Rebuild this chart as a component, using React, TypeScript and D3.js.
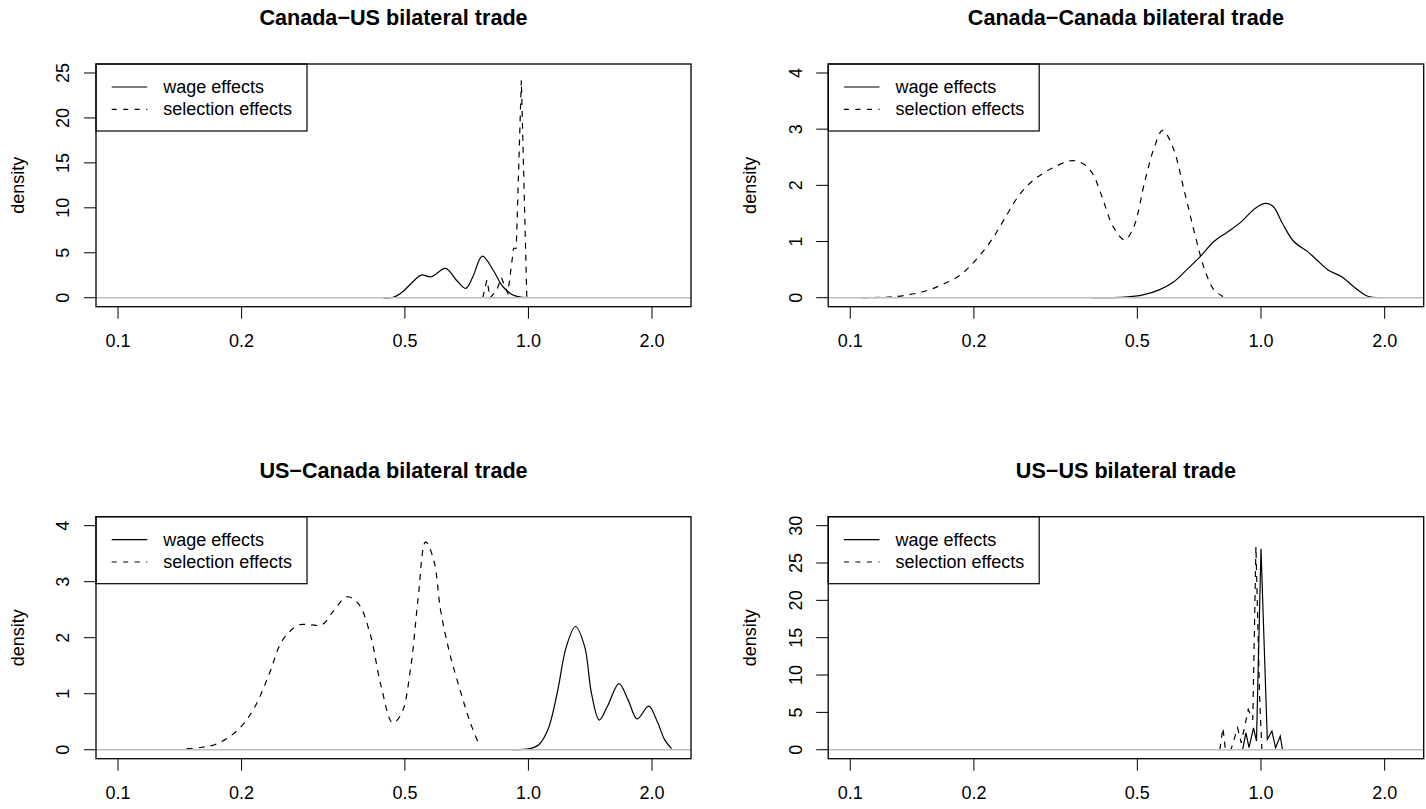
import React from 'react';
import * as d3 from 'd3';

// x ticks shared by all four panels (log scale)
const xTicks = [0.1, 0.2, 0.5, 1.0, 2.0];
const xTickLabels = ['0.1', '0.2', '0.5', '1.0', '2.0'];
const xLim = [0.1, 2.2];

const titles = [
  'Canada\u2212US bilateral trade',
  'Canada\u2212Canada bilateral trade',
  'US\u2212Canada bilateral trade',
  'US\u2212US bilateral trade',
];
const legendLabels = ['wage effects', 'selection effects'];

// Canada-US
const cuWageX = [0.442, 0.468, 0.494, 0.523, 0.548, 0.58, 0.628, 0.667, 0.703, 0.732, 0.772, 0.82, 0.867, 0.917, 0.988];
const cuWageY = [0, 0.05, 0.67, 1.78, 2.52, 2.33, 3.26, 1.97, 1.04, 2.33, 4.63, 3.08, 1.22, 0.3, 0];
const cuSelX = [0.774, 0.792, 0.807, 0.838, 0.859, 0.891, 0.92, 0.934, 0.961, 0.991];
const cuSelY = [0, 1.97, 0, 0.86, 2.26, 0.48, 5.49, 5.5, 24.2, 0];
const cuYTicks = [0, 5, 10, 15, 20, 25];
const cuYLim = [0, 25];

// Canada-Canada
const ccWageX = [0.389, 0.466, 0.516, 0.565, 0.61, 0.658, 0.711, 0.768, 0.829, 0.895, 0.967, 1.026, 1.072, 1.128, 1.202, 1.299, 1.368, 1.459, 1.575, 1.679, 1.813, 1.958];
const ccWageY = [0, 0.01, 0.05, 0.14, 0.27, 0.49, 0.73, 1.0, 1.17, 1.35, 1.59, 1.68, 1.62, 1.32, 1.0, 0.82, 0.67, 0.49, 0.37, 0.2, 0.03, 0];
const ccSelX = [0.1066, 0.129, 0.151, 0.167, 0.185, 0.202, 0.221, 0.239, 0.258, 0.279, 0.309, 0.347, 0.37, 0.389, 0.41, 0.437, 0.466, 0.49, 0.522, 0.55, 0.576, 0.61, 0.65, 0.693, 0.73, 0.768, 0.808];
const ccSelY = [0, 0.02, 0.11, 0.23, 0.4, 0.67, 1.03, 1.44, 1.83, 2.09, 2.3, 2.44, 2.38, 2.21, 1.8, 1.26, 1.03, 1.26, 2.09, 2.68, 2.98, 2.68, 1.91, 1.08, 0.49, 0.14, 0.02];
const ccYTicks = [0, 1, 2, 3, 4];
const ccYLim = [0, 4];

// US-Canada
const ucWageX = [0.909, 1.008, 1.06, 1.116, 1.175, 1.237, 1.302, 1.371, 1.424, 1.488, 1.559, 1.662, 1.749, 1.841, 1.963, 2.066, 2.147, 2.232];
const ucWageY = [0, 0.02, 0.09, 0.36, 1.01, 1.84, 2.2, 1.84, 1.01, 0.53, 0.78, 1.18, 0.89, 0.55, 0.78, 0.48, 0.18, 0.02];
const ucSelX = [0.147, 0.159, 0.172, 0.185, 0.2, 0.216, 0.234, 0.249, 0.262, 0.276, 0.294, 0.314, 0.3346, 0.361, 0.385, 0.411, 0.4377, 0.467, 0.4915, 0.517, 0.538, 0.5616, 0.588, 0.611, 0.643, 0.685, 0.722, 0.76];
const ucSelY = [0.02, 0.04, 0.09, 0.21, 0.42, 0.78, 1.37, 1.9, 2.11, 2.23, 2.23, 2.23, 2.47, 2.73, 2.61, 2.08, 1.13, 0.48, 0.66, 1.49, 2.67, 3.71, 3.38, 2.49, 1.72, 1.01, 0.48, 0.07];
const ucYTicks = [0, 1, 2, 3, 4];
const ucYLim = [0, 4];

// US-US
const uuWageX = [0.902, 0.919, 0.935, 0.959, 0.975, 1.0, 1.036, 1.063, 1.085, 1.114, 1.128];
const uuWageY = [0, 2.27, 0.27, 2.93, 1.16, 26.9, 1.38, 2.49, 0.27, 1.82, 0];
const uuSelX = [0.794, 0.808, 0.819, 0.845, 0.877, 0.895, 0.931, 0.955, 0.972, 0.992, 1.005];
const uuSelY = [0, 2.93, 0, 0, 2.93, 0.93, 5.38, 4.0, 27.2, 7.16, 0];
const uuYTicks = [0, 5, 10, 15, 20, 25, 30];
const uuYLim = [0, 30];

const FONT = '"Liberation Sans", Arial, Helvetica, sans-serif';
const FS = 18;

const Panel = ({ id, left, top, right, bottom, title, yTicks, yLim, wage, sel, smoothWage, smoothSel }) => {
  const lx0 = Math.log10(xLim[0]);
  const lx1 = Math.log10(xLim[1]);
  const ext = (lx1 - lx0) * 0.04;
  const x = d3.scaleLog()
    .domain([Math.pow(10, lx0 - ext), Math.pow(10, lx1 + ext)])
    .range([left, right]);
  const yr = (yLim[1] - yLim[0]) * 0.04;
  const y = d3.scaleLinear()
    .domain([yLim[0] - yr, yLim[1] + yr])
    .range([bottom, top]);

  const mkLine = (smooth) => d3.line<number[]>()
    .x(d => x(d[0]))
    .y(d => y(d[1]))
    .curve(smooth ? d3.curveCatmullRom.alpha(0.5) : d3.curveLinear);

  const wagePts = wage.x.map((v, i) => [v, wage.y[i]]);
  const selPts = sel.x.map((v, i) => [v, sel.y[i]]);

  const cx = (left + right) / 2;
  const cy = (top + bottom) / 2;
  const tick = 12;
  const lgW = 211;
  const lgH = 67;

  return (
    <g>
      <defs>
        <clipPath id={`clip-${id}`}>
          <rect x={left} y={top} width={right - left} height={bottom - top} />
        </clipPath>
      </defs>
      <text x={cx} y={top - 39} textAnchor="middle" fontFamily={FONT} fontWeight="bold" fontSize={21.6}>{title}</text>

      {/* x axis */}
      {xTicks.map((t, i) => (
        <g key={'x' + i}>
          <line x1={x(t)} x2={x(t)} y1={bottom} y2={bottom + tick} stroke="#000" strokeWidth={1} />
          <text x={x(t)} y={bottom + 40} textAnchor="middle" fontFamily={FONT} fontSize={FS}>{xTickLabels[i]}</text>
        </g>
      ))}

      {/* y axis */}
      {yTicks.map((t, i) => (
        <g key={'y' + i}>
          <line x1={left - tick} x2={left} y1={y(t)} y2={y(t)} stroke="#000" strokeWidth={1} />
          <text x={left - 26.5} y={y(t)} transform={`rotate(-90, ${left - 26.5}, ${y(t)})`} textAnchor="middle" fontFamily={FONT} fontSize={FS}>{t}</text>
        </g>
      ))}
      <text x={left - 72} y={cy} transform={`rotate(-90, ${left - 72}, ${cy})`} textAnchor="middle" fontFamily={FONT} fontSize={FS}>density</text>

      {/* curves */}
      <g clipPath={`url(#clip-${id})`}>
        <path d={mkLine(smoothWage)(wagePts) || ''} fill="none" stroke="#000" strokeWidth={1.2} />
        <path d={mkLine(smoothSel)(selPts) || ''} fill="none" stroke="#000" strokeWidth={1.2} strokeDasharray="6,6" />
        <line x1={left} x2={right} y1={y(0)} y2={y(0)} stroke="#bebebe" strokeWidth={1.6} />
      </g>

      {/* legend */}
      <rect x={left} y={top} width={lgW} height={lgH} fill="#fff" stroke="#000" strokeWidth={1.2} />
      {legendLabels.map((lab, i) => {
        const ly = top + 23 + i * 22.3;
        return (
          <g key={'lg' + i}>
            <line x1={left + 15.7} x2={left + 51.3} y1={ly} y2={ly} stroke="#000" strokeWidth={1.2} strokeDasharray={i === 1 ? '5,6.5' : null} />
            <text x={left + 67.3} y={ly + 6} fontFamily={FONT} fontSize={FS}>{lab}</text>
          </g>
        );
      })}

      {/* box */}
      <rect x={left} y={top} width={right - left} height={bottom - top} fill="none" stroke="#000" strokeWidth={1.3} />
    </g>
  );
};

export default function App() {
  const W = 1426;
  const H = 809;
  return (
    <div style={{ position: 'absolute', left: 0, top: 0 }}>
      <svg width={W} height={H} style={{ display: 'block', background: '#fff' }}>
        <rect x={0} y={0} width={W} height={H} fill="#fff" />
        <Panel id="cu" left={96} right={691} top={64} bottom={306.7} title={titles[0]}
          yTicks={cuYTicks} yLim={cuYLim} wage={{ x: cuWageX, y: cuWageY }} sel={{ x: cuSelX, y: cuSelY }}
          smoothWage={true} smoothSel={false} />
        <Panel id="cc" left={828.2} right={1423.7} top={64} bottom={306.7} title={titles[1]}
          yTicks={ccYTicks} yLim={ccYLim} wage={{ x: ccWageX, y: ccWageY }} sel={{ x: ccSelX, y: ccSelY }}
          smoothWage={true} smoothSel={true} />
        <Panel id="uc" left={96} right={691} top={516.7} bottom={758.7} title={titles[2]}
          yTicks={ucYTicks} yLim={ucYLim} wage={{ x: ucWageX, y: ucWageY }} sel={{ x: ucSelX, y: ucSelY }}
          smoothWage={true} smoothSel={true} />
        <Panel id="uu" left={828.2} right={1423.7} top={516.7} bottom={758.7} title={titles[3]}
          yTicks={uuYTicks} yLim={uuYLim} wage={{ x: uuWageX, y: uuWageY }} sel={{ x: uuSelX, y: uuSelY }}
          smoothWage={false} smoothSel={false} />
      </svg>
    </div>
  );
}
